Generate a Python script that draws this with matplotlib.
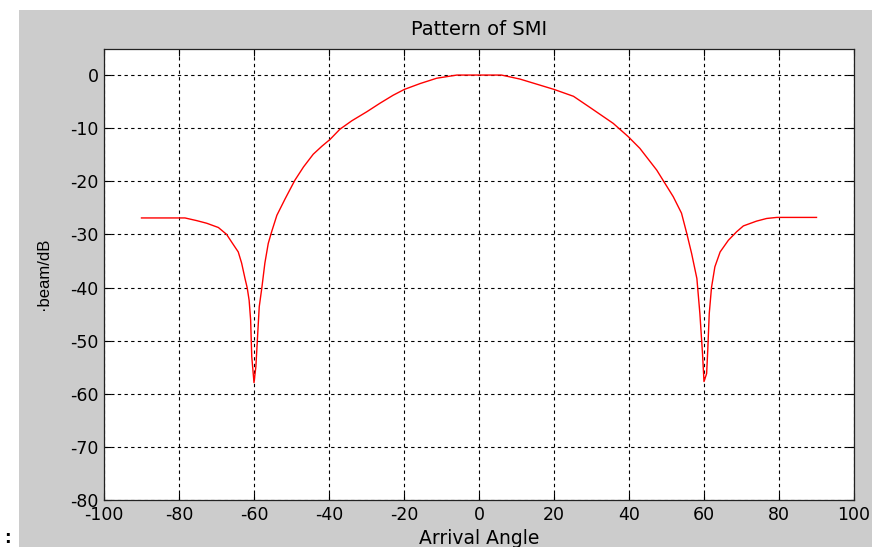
import matplotlib
matplotlib.use("Agg")
import matplotlib.pyplot as plt
from matplotlib.patches import Rectangle

# Data (arrival angle in degrees, beam pattern in dB)
angles = [-90, -78.4, -75.3, -72.6, -69.5, -67.3, -66.0, -64.2, -63.3, -62.4,
          -61.8, -61.3, -60.9, -60.6, -60.0, -59.5, -59.0, -58.6, -57.9, -57.1,
          -56.2, -55.3, -53.9, -51.7, -49.1, -46.8, -44.2, -41.9, -39.7, -37.1,
          -33.9, -29.9, -26.4, -22.9, -19.9, -15.7, -11.3, -5.9, 0.3, 6.0,
          10.9, 20.0, 25.2, 29.6, 35.8, 39.8, 42.9, 47.4, 51.8, 54.0,
          55.4, 56.7, 58.1, 58.9, 59.6, 60.0, 60.7, 61.0, 61.4, 62.0,
          62.9, 64.3, 66.5, 68.7, 70.5, 74.0, 76.7, 79.4, 90]
beam_db = [-26.9, -26.9, -27.4, -27.9, -28.7, -30.0, -31.4, -33.3, -35.4, -38.3,
           -40.1, -42.4, -46.1, -53.0, -57.9, -54.9, -48.6, -43.6, -40.0, -35.4,
           -31.7, -29.5, -26.4, -23.3, -19.8, -17.3, -14.9, -13.4, -12.1, -10.2,
           -8.6, -6.9, -5.3, -3.8, -2.7, -1.6, -0.6, 0.0, 0.0, 0.0,
           -0.75, -2.7, -4.0, -6.1, -9.1, -11.6, -13.8, -17.9, -22.9, -26.0,
           -29.8, -33.6, -38.3, -44.9, -52.4, -57.7, -56.2, -51.8, -44.9, -40.0,
           -36.1, -33.3, -31.1, -29.5, -28.4, -27.5, -27.0, -26.8, -26.8]

xticks = [-100, -80, -60, -40, -20, 0, 20, 40, 60, 80, 100]
yticks = [0, -10, -20, -30, -40, -50, -60, -70, -80]

plt.rcParams['font.family'] = ['DejaVu Sans']
plt.rcParams['axes.unicode_minus'] = False

W, H = 872, 547
fig = plt.figure(figsize=(W / 100, H / 100), dpi=100, facecolor='white')
fig.patches.append(Rectangle((19 / W, 0), 1 - 19 / W, (H - 10) / H,
                             transform=fig.transFigure, facecolor='#cccccc',
                             edgecolor='none', zorder=-10))

left, right, top, bottom = 104, 854, 48.5, 500
ax = fig.add_axes([left / W, 1 - bottom / H, (right - left) / W, (bottom - top) / H])
ax.set_facecolor('white')

ax.plot(angles, beam_db, color='red', lw=1.0)

ax.set_xlim(-100, 100)
ax.set_ylim(-80, 5)
ax.set_xticks(xticks)
ax.set_yticks(yticks)
ax.set_xticklabels([str(t) for t in xticks])
ax.set_yticklabels([str(t) for t in yticks])
ax.grid(True, color='black', linestyle=(0, (3, 3)), linewidth=0.8)
ax.tick_params(direction='in', length=5, width=0.8, top=True, right=True,
               labelsize=12.5, colors='black')
ax.tick_params(axis='x', pad=4)
ax.tick_params(axis='y', pad=4)
for s in ax.spines.values():
    s.set_color('#222222')
    s.set_linewidth(0.9)

ax.set_title('Pattern of SMI', fontsize=14, pad=10)
ax.set_xlabel('Arrival Angle', fontsize=13.5, labelpad=4)
ax.set_ylabel('·beam/dB', fontsize=12, family='Liberation Sans', labelpad=14)

fig.text(7 / W, 1 - 543 / H, ':', fontsize=12, fontweight='bold',
         ha='center', va='baseline')

fig.savefig('out.png', dpi=100, facecolor=fig.get_facecolor())
